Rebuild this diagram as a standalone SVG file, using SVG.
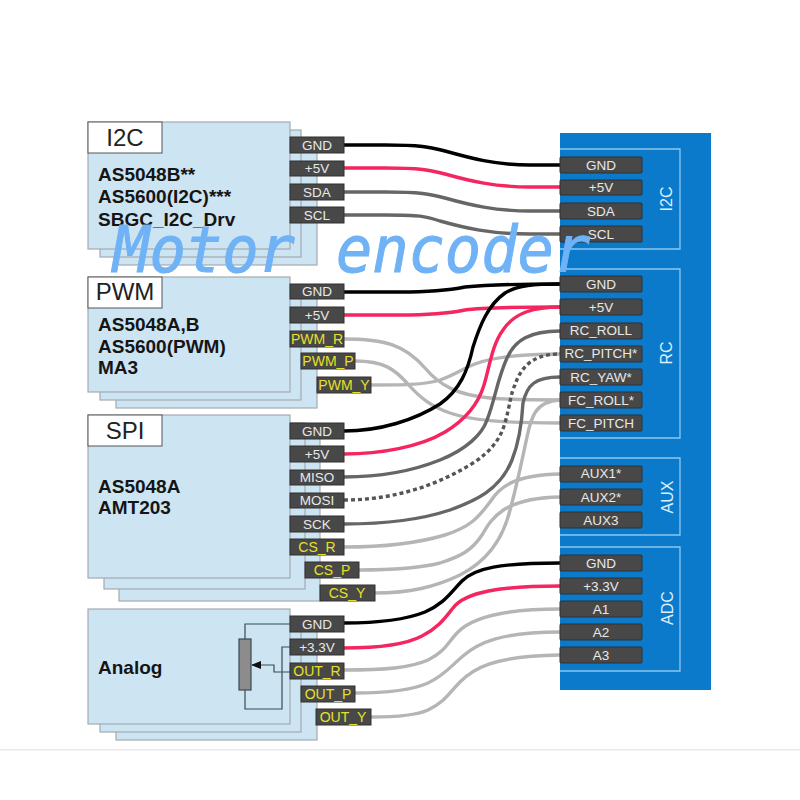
<svg xmlns="http://www.w3.org/2000/svg" width="800" height="800" viewBox="0 0 800 800">
<style>
text{font-family:"Liberation Sans",Arial,sans-serif}
.card{fill:#cde4f3;stroke:#a3abb0;stroke-width:1.2}
.tag{fill:#fff;stroke:#555;stroke-width:1}
.tagt{font-size:24px;fill:#222;text-anchor:middle}
.body{font-size:19px;font-weight:bold;fill:#151515}
.pin{fill:#484848;stroke:#303030;stroke-width:1}
.pt{font-size:13.5px;fill:#e8e8e8;text-anchor:middle}
.py{font-size:14px;fill:#e6e028;text-anchor:middle}
.sec{fill:none;stroke:#8cc8f0;stroke-width:1.3}
.side{font-size:16px;fill:#dcf0fc;text-anchor:middle}
.w{fill:none;stroke-width:3.4;stroke-linecap:butt}
.blk{stroke:#000}.red{stroke:#f4265f}.dk{stroke:#666}.lt{stroke:#b5b5b5}
.dot{stroke:#555;stroke-dasharray:4 3}
.thin{fill:none;stroke:#3c4a50;stroke-width:1.2}
.wm{font-family:"DejaVu Sans Mono",monospace;font-size:64px;font-style:italic;fill:#6fb2f5;stroke:#6fb2f5;stroke-width:1}
</style>
<defs>
<marker id="head" markerWidth="10" markerHeight="8" refX="9" refY="4" orient="auto" markerUnits="userSpaceOnUse"><path d="M0 0L10 4L0 8Z" fill="#111"/></marker>
</defs>
<rect width="800" height="800" fill="#fff"/>
<rect x="0" y="749" width="800" height="1.5" fill="#eaeaea"/>

<g id="connectors">
<path class="w lt" d="M344 339C385 339 405 345 425 368C440 386 458 395 490 398C515 400 535 400 560 400"/>
<path class="w lt" d="M355 361C385 361 395 370 407 383C420 398 432 407 450 413C470 420 500 423 560 423"/>
<path class="w lt" d="M371 385C400 385 425 385 440 380C455 375 462 369 475 364C495 356 525 354 560 354"/>
<path class="w lt" d="M344 547C385 547 415 544 445 535C470 527 478 518 490 502C500 486 515 475 560 474"/>
<path class="w lt" d="M359 570C390 570 420 568 440 563C462 556 472 550 482 535C492 518 503 498 560 497"/>
<path class="w lt" d="M375 593C410 593 435 587 460 575C490 560 504 535 510 510C517 485 522 460 527 437C531 418 535 401 560 400"/>
<path class="w lt" d="M344 670C385 670 410 668 428 660C445 652 448 642 458 632C470 620 495 609 560 609"/>
<path class="w lt" d="M355 693C385 693 410 691 428 683C445 675 452 665 463 656C478 643 500 632 560 632"/>
<path class="w lt" d="M371 717C395 717 415 716 428 710C445 702 450 692 460 682C472 670 490 656 560 655"/>
<path class="w dk" d="M344 192H385C420 192 430 194 445 198C470 205 495 211 530 211H560"/>
<path class="w dk" d="M344 215H385C420 215 425 216 440 221C465 228 490 234 530 234H560"/>
<path class="w dk" d="M344 477C385 477 415 470 440 460C465 450 482 435 487 420C495 400 497 380 507 358C515 340 530 331 560 331"/>
<path class="w dot" d="M344 500C385 500 430 490 473 463C490 452 500 440 505 423C510 405 511 392 515 385C520 370 530 354 560 354"/>
<path class="w dk" d="M344 524C385 524 420 520 450 510C475 501 500 490 512 460C520 440 522 420 523 403C527 385 535 377 560 377"/>
<path class="w red" d="M344 168H385C420 168 430 170 445 174C470 181 495 187 530 187H560"/>
<path class="w red" d="M344 315H400C430 315 450 313 465 310C485 307 520 307 560 307"/>
<path class="w red" d="M344 454C380 454 420 447 445 432C465 420 478 405 484 385C490 365 492 345 503 330C515 312 535 307 560 307"/>
<path class="w red" d="M344 648C380 648 405 645 422 636C438 628 445 618 453 608C465 592 500 586 560 586"/>
<path class="w blk" d="M344 145H385C420 145 430 147 445 151C470 158 495 165 530 165H560"/>
<path class="w blk" d="M344 292H400C430 292 450 290 465 287C485 285 520 284 560 284"/>
<path class="w blk" d="M344 431C380 431 415 420 440 404C460 390 468 370 473 347C480 325 488 305 505 293C518 285 535 284 560 284"/>
<path class="w blk" d="M344 623C380 623 405 620 425 612C445 603 450 593 462 581C475 568 500 563 560 563"/>
</g>

<g id="panel">
<rect x="560" y="133" width="151" height="557" fill="#0b7acb"/>
<path class="sec" d="M560 149H680V249H560"/>
<path class="sec" d="M560 269H680V438H560"/>
<path class="sec" d="M560 458H680V535H560"/>
<path class="sec" d="M560 547H680V671H560"/>
<text class="side" transform="translate(672 199) rotate(-90)">I2C</text>
<text class="side" transform="translate(672 353) rotate(-90)">RC</text>
<text class="side" transform="translate(673 497) rotate(-90)">AUX</text>
<text class="side" transform="translate(673 608) rotate(-90)">ADC</text>
<g id="panel-i2c">
<rect class="pin" x="560" y="157" width="82" height="16" rx="1"/><text class="pt" x="601" y="170">GND</text>
<rect class="pin" x="560" y="180" width="82" height="15" rx="1"/><text class="pt" x="601" y="192">+5V</text>
<rect class="pin" x="560" y="203" width="82" height="16" rx="1"/><text class="pt" x="601" y="216">SDA</text>
<rect class="pin" x="560" y="226" width="82" height="16" rx="1"/><text class="pt" x="601" y="239">SCL</text>
</g>
<g id="panel-rc">
<rect class="pin" x="560" y="276" width="82" height="16" rx="1"/><text class="pt" x="601" y="289">GND</text>
<rect class="pin" x="560" y="299" width="82" height="16" rx="1"/><text class="pt" x="601" y="312">+5V</text>
<rect class="pin" x="560" y="323" width="82" height="16" rx="1"/><text class="pt" x="601" y="335">RC_ROLL</text>
<rect class="pin" x="560" y="346" width="82" height="16" rx="1"/><text class="pt" x="601" y="358">RC_PITCH*</text>
<rect class="pin" x="560" y="369" width="82" height="16" rx="1"/><text class="pt" x="601" y="382">RC_YAW*</text>
<rect class="pin" x="560" y="392" width="82" height="16" rx="1"/><text class="pt" x="601" y="405">FC_ROLL*</text>
<rect class="pin" x="560" y="415" width="82" height="16" rx="1"/><text class="pt" x="601" y="428">FC_PITCH</text>
</g>
<g id="panel-aux">
<rect class="pin" x="560" y="466" width="82" height="16" rx="1"/><text class="pt" x="601" y="478">AUX1*</text>
<rect class="pin" x="560" y="489" width="82" height="16" rx="1"/><text class="pt" x="601" y="502">AUX2*</text>
<rect class="pin" x="560" y="512" width="82" height="16" rx="1"/><text class="pt" x="601" y="525">AUX3</text>
</g>
<g id="panel-adc">
<rect class="pin" x="560" y="555" width="82" height="16" rx="1"/><text class="pt" x="601" y="568">GND</text>
<rect class="pin" x="560" y="578" width="82" height="16" rx="1"/><text class="pt" x="601" y="591">+3.3V</text>
<rect class="pin" x="560" y="601" width="82" height="16" rx="1"/><text class="pt" x="601" y="614">A1</text>
<rect class="pin" x="560" y="624" width="82" height="16" rx="1"/><text class="pt" x="601" y="637">A2</text>
<rect class="pin" x="560" y="647" width="82" height="16" rx="1"/><text class="pt" x="601" y="660">A3</text>
</g>
</g>

<g id="node-i2c">
<rect class="card" x="116" y="138" width="201" height="127"/>
<rect class="card" x="100" y="130" width="201" height="127"/>
<rect class="card" x="88" y="122" width="202" height="127"/>
<rect class="tag" x="88" y="122" width="74" height="31"/>
<text class="tagt" x="125" y="146">I2C</text>
<text class="body" x="98" y="181">AS5048B**</text>
<text class="body" x="98" y="203">AS5600(I2C)***</text>
<text class="body" x="98" y="226">SBGC_I2C_Drv</text>
<rect class="pin" x="290" y="137" width="54" height="16"/><text class="pt" x="317" y="150">GND</text>
<rect class="pin" x="290" y="161" width="54" height="15"/><text class="pt" x="317" y="173">+5V</text>
<rect class="pin" x="290" y="184" width="54" height="16"/><text class="pt" x="317" y="197">SDA</text>
<rect class="pin" x="290" y="207" width="54" height="16"/><text class="pt" x="317" y="220">SCL</text>
</g>

<g id="node-pwm">
<rect class="card" x="116" y="293" width="201" height="115"/>
<rect class="card" x="100" y="285" width="201" height="115"/>
<rect class="card" x="88" y="277" width="202" height="115"/>
<rect class="tag" x="88" y="277" width="74" height="31"/>
<text class="tagt" x="125" y="300">PWM</text>
<text class="body" x="98" y="331">AS5048A,B</text>
<text class="body" x="98" y="353">AS5600(PWM)</text>
<text class="body" x="98" y="374">MA3</text>
<rect class="pin" x="290" y="284" width="54" height="15"/><text class="pt" x="317" y="296">GND</text>
<rect class="pin" x="290" y="307" width="54" height="16"/><text class="pt" x="317" y="320">+5V</text>
<rect class="pin" x="290" y="331" width="54" height="16"/><text class="py" x="317" y="344">PWM_R</text>
<rect class="pin" x="301" y="353" width="54" height="16"/><text class="py" x="328" y="366">PWM_P</text>
<rect class="pin" x="317" y="377" width="54" height="16"/><text class="py" x="344" y="390">PWM_Y</text>
</g>

<g id="node-spi">
<rect class="card" x="119" y="431" width="201" height="170"/>
<rect class="card" x="104" y="423" width="201" height="166"/>
<rect class="card" x="88" y="415" width="202" height="163"/>
<rect class="tag" x="88" y="415" width="74" height="31"/>
<text class="tagt" x="125" y="439">SPI</text>
<text class="body" x="98" y="493">AS5048A</text>
<text class="body" x="98" y="514">AMT203</text>
<rect class="pin" x="290" y="423" width="54" height="16"/><text class="pt" x="317" y="436">GND</text>
<rect class="pin" x="290" y="446" width="54" height="16"/><text class="pt" x="317" y="459">+5V</text>
<rect class="pin" x="290" y="470" width="54" height="15"/><text class="pt" x="317" y="482">MISO</text>
<rect class="pin" x="290" y="493" width="54" height="15"/><text class="pt" x="317" y="505">MOSI</text>
<rect class="pin" x="290" y="516" width="54" height="16"/><text class="pt" x="317" y="529">SCK</text>
<rect class="pin" x="290" y="539" width="54" height="16"/><text class="py" x="317" y="552">CS_R</text>
<rect class="pin" x="305" y="562" width="54" height="16"/><text class="py" x="332" y="575">CS_P</text>
<rect class="pin" x="320" y="585" width="55" height="16"/><text class="py" x="347" y="598">CS_Y</text>
</g>

<g id="node-analog">
<rect class="card" x="116" y="625" width="201" height="115"/>
<rect class="card" x="100" y="617" width="201" height="115"/>
<rect class="card" x="88" y="609" width="202" height="115"/>
<text class="body" x="98" y="674">Analog</text>
<path class="thin" d="M290 624H245V639M245 690V709H282V647H290"/>
<path class="thin" d="M290 672H274V665H252" marker-end="url(#head)"/>
<rect x="239" y="639" width="12" height="51" fill="#8c8c8c" stroke="#3c4a50" stroke-width="1.2"/>
<rect class="pin" x="290" y="616" width="54" height="16"/><text class="pt" x="317" y="629">GND</text>
<rect class="pin" x="290" y="639" width="54" height="16"/><text class="pt" x="317" y="652">+3.3V</text>
<rect class="pin" x="290" y="663" width="54" height="16"/><text class="py" x="317" y="676">OUT_R</text>
<rect class="pin" x="301" y="686" width="54" height="16"/><text class="py" x="328" y="699">OUT_P</text>
<rect class="pin" x="316" y="709" width="55" height="16"/><text class="py" x="343" y="722">OUT_Y</text>
</g>

<g id="watermark">
<text class="wm" x="113" y="272" textLength="182" lengthAdjust="spacingAndGlyphs">Motor</text>
<text class="wm" x="336" y="272" textLength="254" lengthAdjust="spacingAndGlyphs">encoder</text>
</g>
</svg>
